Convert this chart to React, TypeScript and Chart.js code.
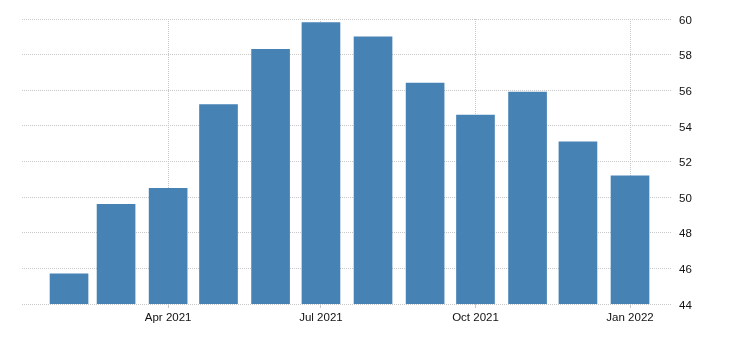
import React, { useEffect, useRef } from "react";
import { Chart, registerables } from "chart.js";

Chart.register(...registerables);

// Data
const months = [
  "2021-02-01", "2021-03-01", "2021-04-01", "2021-05-01", "2021-06-01", "2021-07-01",
  "2021-08-01", "2021-09-01", "2021-10-01", "2021-11-01", "2021-12-01", "2022-01-01",
];
const values = [45.7, 49.6, 50.5, 55.2, 58.3, 59.8, 59.0, 56.4, 54.6, 55.9, 53.1, 51.2];
const tickDates = ["2021-04-01", "2021-07-01", "2021-10-01", "2022-01-01"];
const tickLabels = ["Apr 2021", "Jul 2021", "Oct 2021", "Jan 2022"];
const xRange = ["2021-01-04", "2022-01-26"];
const yMin = 44;
const yMax = 60;
const yStep = 2;

const DAY = 86400000;
const toDay = (s: string) => Date.parse(s + "T00:00:00Z") / DAY;

export default function App() {
  const ref = useRef<HTMLCanvasElement | null>(null);

  useEffect(() => {
    document.body.style.margin = "0";
    const canvas = ref.current;
    if (!canvas) return;
    const tickDays = tickDates.map(toDay);
    const font = { family: "'Liberation Sans', Arial, sans-serif", size: 11.5 };
    const chart = new Chart(canvas, {
      type: "bar",
      data: {
        datasets: [
          {
            data: months.map((m, i) => ({ x: toDay(m), y: values[i] })),
            backgroundColor: "#4682b4",
            borderWidth: 0,
            barThickness: 38,
          },
        ],
      },
      options: {
        responsive: false,
        animation: false,
        layout: { padding: { left: 22, top: 19, right: 0, bottom: 0 } },
        plugins: { legend: { display: false }, tooltip: { enabled: false } },
        scales: {
          x: {
            type: "linear",
            offset: false,
            min: toDay(xRange[0]),
            max: toDay(xRange[1]),
            afterBuildTicks: (scale: any) => {
              scale.ticks = tickDays.map((v) => ({ value: v }));
            },
            afterFit: (scale: any) => {
              scale.height = 36;
            },
            ticks: {
              autoSkip: false,
              maxRotation: 0,
              padding: 3,
              color: "#111",
              font,
              callback: (v: any) => {
                const i = tickDays.indexOf(Number(v));
                return i >= 0 ? tickLabels[i] : "";
              },
            },
            grid: {
              offset: false,
              color: "#c8c8c8",
              lineWidth: 1,
              drawTicks: true,
              tickLength: 4,
              tickColor: "#c8c8c8",
              tickBorderDash: [],
            },
            border: { display: false, dash: [1, 1] },
          },
          y: {
            position: "right",
            min: yMin,
            max: yMax,
            afterFit: (scale: any) => {
              scale.width = 58;
            },
            ticks: {
              stepSize: yStep,
              padding: 7,
              labelOffset: 1.5,
              color: "#111",
              font,
            },
            grid: {
              color: "#c8c8c8",
              lineWidth: 1,
              drawTicks: false,
            },
            border: { display: false, dash: [1, 1] },
          },
        },
      },
    } as any);
    return () => chart.destroy();
  }, []);

  return <canvas ref={ref} width={730} height={340} style={{ display: "block" }} />;
}
